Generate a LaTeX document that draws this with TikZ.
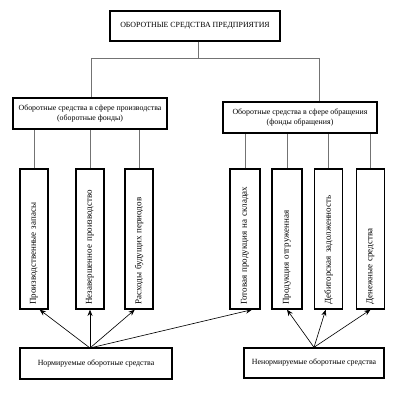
\documentclass[tikz,border=0pt]{standalone}
\usepackage{fontspec}
\setmainfont{Liberation Serif}
\usetikzlibrary{arrows, arrows.meta, positioning}

\begin{document}
\begin{tikzpicture}[x=0.025cm, y=-0.025cm, >={Stealth[length=4.5pt,width=3.6pt]},
  box/.style={draw, line width=0.9pt, fill=white, align=center, inner sep=1pt,
    font=\fontsize{5.6}{6.8}\selectfont},
  vbox/.style={draw, line width=0.9pt, rotate=90, inner sep=2pt,
    minimum width=3.5cm, minimum height=0.7cm, text width=3.5cm-6pt, align=left,
    font=\fontsize{6.4}{7.4}\selectfont},
  link/.style={draw=black!55, line width=0.5pt},
  feed/.style={->, line width=0.45pt}]
\useasboundingbox (0,0) rectangle (400,400);
% header
\node[box, minimum width=4.25cm, minimum height=0.75cm] (osp) at (195,26) {ОБОРОТНЫЕ СРЕДСТВА ПРЕДПРИЯТИЯ};
\node[box, minimum width=3.85cm, minimum height=0.775cm] (prod) at (90,113.5)
  {Оборотные средства в сфере производства\\(оборотные фонды)};
\node[box, minimum width=3.85cm, minimum height=0.775cm] (circ) at (300,117.5)
  {Оборотные средства в сфере обращения\\(фонды обращения)};
% items
\node[vbox] (pz) at (34,239)  {Производственные запасы};
\node[vbox] (np) at (90,239)  {Незавершенное производство};
\node[vbox] (rb) at (139,239) {Расходы будущих периодов};
\node[vbox, minimum height=0.75cm] (gp) at (245,239) {Готовая продукция на складах};
\node[vbox, minimum height=0.75cm] (po) at (287,239) {Продукция отгруженная};
\node[vbox] (dz) at (328.5,239) {Дебиторская задолженность};
\node[vbox] (ds) at (370.5,239) {Денежные средства};
% bottom
\node[box, minimum width=3.8cm, minimum height=0.775cm] (norm) at (96,363.5) {Нормируемые оборотные средства};
\node[box, minimum width=3.5cm, minimum height=0.75cm] (nnorm) at (314,363) {Ненормируемые оборотные средства};

\coordinate (jL) at (91,58);
\coordinate (jR) at (319,58);
\coordinate (nsrc) at (90,348);

\path[link] (jL) -- (jR)
  (osp.south -| 198,0) -- (198,58)
  (jL) -- (jL |- prod.north)
  (jR) -- (jR |- circ.north);
\path[link] (pz.east) -- (pz.east |- prod.south)
  (np.east) -- (np.east |- prod.south)
  (rb.east) -- (rb.east |- prod.south)
  (gp.east) -- (gp.east |- circ.south)
  (po.east) -- (po.east |- circ.south)
  (dz.east) -- (dz.east |- circ.south)
  (ds.east) -- (ds.east |- circ.south);

\draw[feed] (nsrc) -- ([xshift=4]pz.west);
\draw[feed] (nsrc) -- (np.west);
\draw[feed] (nsrc) -- ([xshift=-3]rb.west);
\draw[feed] (nsrc) -- ([xshift=5]gp.west);
\draw[feed] (nnorm.north) -- (po.west);
\draw[feed] (nnorm.north) -- ([xshift=-2]dz.west);
\draw[feed] (nnorm.north) -- (ds.west);
\end{tikzpicture}
\end{document}
